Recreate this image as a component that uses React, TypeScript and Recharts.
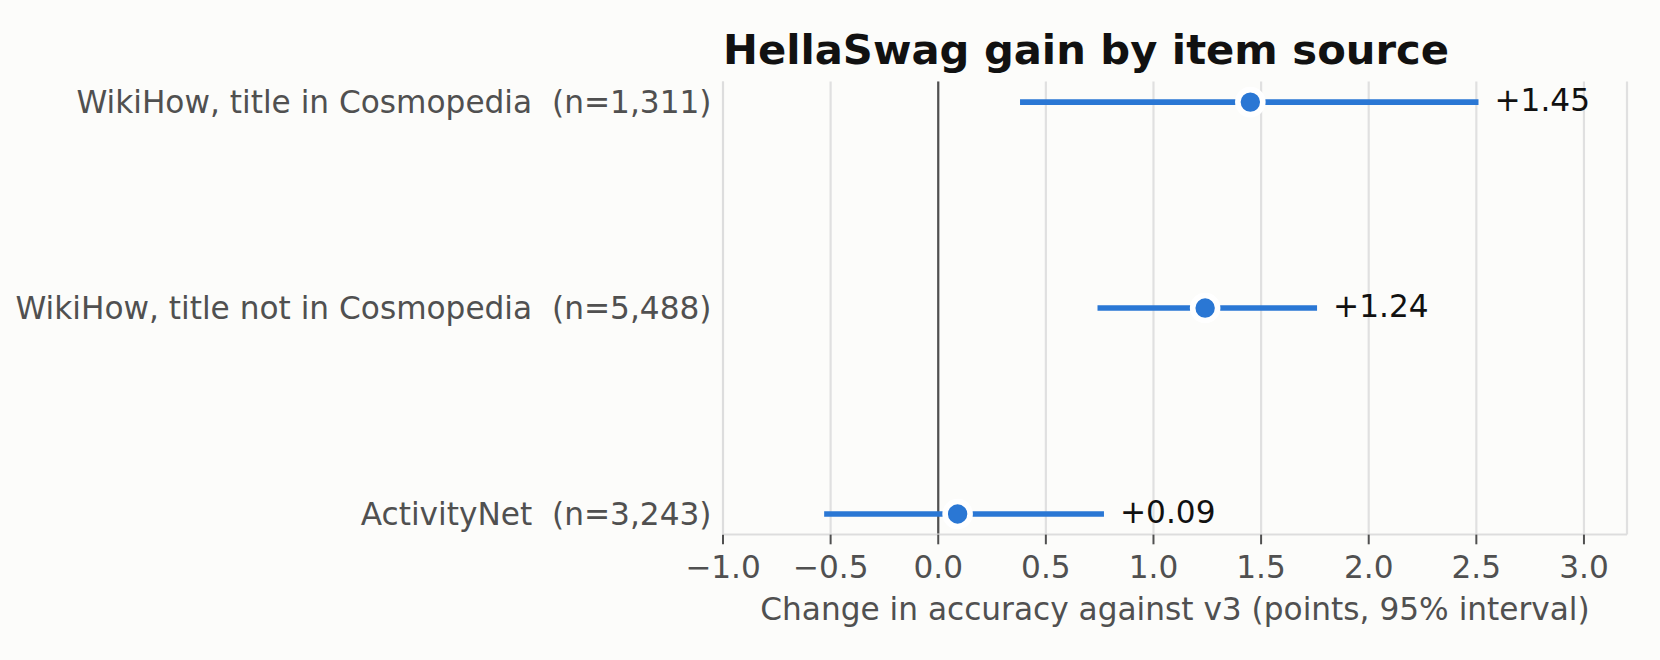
import React from "react";
import {
  ScatterChart,
  Scatter,
  XAxis,
  YAxis,
  CartesianGrid,
  ReferenceLine,
} from "recharts";

// item sources, top to bottom
const categories = [
  "WikiHow, title in Cosmopedia",
  "WikiHow, title not in Cosmopedia",
  "ActivityNet",
];
const counts = ["1,311", "5,488", "3,243"];

// change in accuracy vs v3 with 95% interval
const gains = [1.45, 1.24, 0.09];
const lows = [0.38, 0.74, -0.53];
const highs = [2.51, 1.76, 0.77];

const xTicks = [-1, -0.5, 0, 0.5, 1, 1.5, 2, 2.5, 3];
const rowTicks = [0, 1, 2];

const BLUE = "#2a77d4";
const GREY = "#505050";
const BG = "#fcfcfa";
const FONT = 31.2;

const fmtTick = (v: number) => (v < 0 ? "\u2212" : "") + Math.abs(v).toFixed(1);

const CategoryTick = (props: any) => {
  const { x, y, payload } = props;
  const i = payload.value;
  return (
    <text
      x={x}
      y={y}
      textAnchor="end"
      dominantBaseline="central"
      fontSize={FONT}
      fill={GREY}
      style={{ whiteSpace: "pre" }}
    >
      {`${categories[i]}  (n=${counts[i]})`}
    </text>
  );
};

const Dot = (props: any) => (
  <circle cx={props.cx} cy={props.cy} r={12.5} fill={BLUE} stroke="#ffffff" strokeWidth={5.6} />
);

const ValueLabel = (props: any) => (
  <text
    x={props.cx + 16}
    y={props.cy}
    dy={-2.5}
    dominantBaseline="central"
    fontSize={FONT}
    fill="#111111"
  >
    {props.payload.text}
  </text>
);

const NoShape = () => <g />;

export default function App() {
  const points = gains.map((g, i) => ({ x: g, y: i }));
  const labels = highs.map((h, i) => ({
    x: h,
    y: i,
    text: `${gains[i] >= 0 ? "+" : "\u2212"}${Math.abs(gains[i]).toFixed(2)}`,
  }));
  const intervals = lows.map((lo, i) => [
    { x: lo, y: i },
    { x: highs[i], y: i },
  ]);

  return (
    <div
      style={{
        position: "absolute",
        left: 0,
        top: 0,
        width: 1660,
        height: 660,
        background: BG,
        fontFamily: "'DejaVu Sans', sans-serif",
      }}
    >
      <div
        style={{
          position: "absolute",
          left: 723,
          top: 29,
          fontSize: 41.7,
          lineHeight: 1,
          fontWeight: "bold",
          color: "#111111",
          whiteSpace: "nowrap",
        }}
      >
        HellaSwag gain by item source
      </div>
      <ScatterChart
        width={1660}
        height={660}
        margin={{ top: 81.5, right: 33, bottom: 25.4, left: 0 }}
      >
        <CartesianGrid horizontal={false} stroke="#e0e0e0" strokeWidth={2.2} />
        <XAxis
          type="number"
          dataKey="x"
          domain={[-1, 3.2]}
          ticks={xTicks}
          allowDataOverflow
          tickFormatter={fmtTick}
          tick={{ fill: GREY, fontSize: FONT }}
          tickSize={9.7}
          tickMargin={11.5}
          tickLine={{ stroke: GREY, strokeWidth: 2 }}
          axisLine={{ stroke: "#dddddd", strokeWidth: 2 }}
          height={100}
          label={{
            value: "Change in accuracy against v3 (points, 95% interval)",
            position: "insideBottom",
            offset: 14.6,
            fill: GREY,
            fontSize: FONT,
          }}
        />
        <YAxis
          type="number"
          dataKey="y"
          domain={[-0.1, 2.1]}
          ticks={rowTicks}
          reversed
          allowDataOverflow
          width={723}
          tickSize={0}
          tickMargin={11.5}
          tickLine={false}
          tick={<CategoryTick />}
          axisLine={{ stroke: "#dddddd", strokeWidth: 2 }}
        />
        <ReferenceLine x={0} stroke={GREY} strokeWidth={2.2} />
        {intervals.map((seg, i) => (
          <Scatter
            key={i}
            data={seg}
            line={{ stroke: BLUE, strokeWidth: 5.6 }}
            lineType="joint"
            shape={NoShape}
            isAnimationActive={false}
          />
        ))}
        <Scatter data={points} shape={Dot} isAnimationActive={false} />
        <Scatter data={labels} shape={ValueLabel} isAnimationActive={false} />
      </ScatterChart>
    </div>
  );
}
